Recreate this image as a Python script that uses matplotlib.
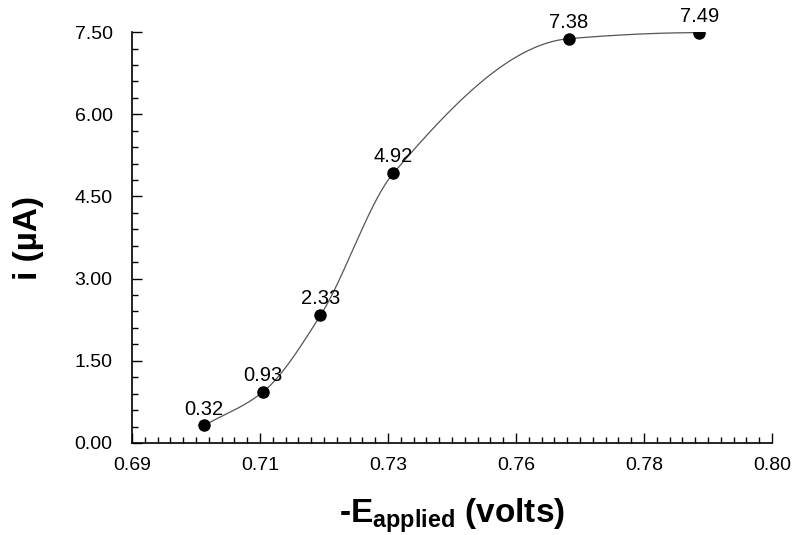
import matplotlib
matplotlib.use("Agg")
import matplotlib.pyplot as plt
import numpy as np
from matplotlib.ticker import AutoMinorLocator, FormatStrFormatter

plt.rcParams['font.family'] = ['Liberation Sans', 'DejaVu Sans']
plt.rcParams['mathtext.fontset'] = 'custom'
plt.rcParams['mathtext.rm'] = 'Liberation Sans:bold'
plt.rcParams['mathtext.default'] = 'rm'

# applied potential (V) and current (uA)
e_applied = np.array([0.7024, 0.7125, 0.7224, 0.7349, 0.7651, 0.7875])
current = np.array([0.32, 0.93, 2.33, 4.92, 7.38, 7.49])
point_labels = ["0.32", "0.93", "2.33", "4.92", "7.38", "7.49"]


def pchip(x, y, xs):
    # monotone cubic (Fritsch-Carlson) for the smooth line through the points
    h = np.diff(x)
    d = np.diff(y) / h
    m = np.zeros_like(y)
    for k in range(1, len(x) - 1):
        if d[k - 1] * d[k] > 0:
            w1 = 2 * h[k] + h[k - 1]
            w2 = h[k] + 2 * h[k - 1]
            m[k] = (w1 + w2) / (w1 / d[k - 1] + w2 / d[k])
    m[0] = d[0]
    m[-1] = 0.0
    idx = np.clip(np.searchsorted(x, xs) - 1, 0, len(x) - 2)
    t = (xs - x[idx]) / h[idx]
    h00 = 2 * t**3 - 3 * t**2 + 1
    h10 = t**3 - 2 * t**2 + t
    h01 = -2 * t**3 + 3 * t**2
    h11 = t**3 - t**2
    return h00 * y[idx] + h10 * h[idx] * m[idx] + h01 * y[idx + 1] + h11 * h[idx] * m[idx + 1]


fig = plt.figure(figsize=(7.94, 5.35), dpi=100)
ax = fig.add_axes([0.1662, 0.172, 0.8061, 0.768])

xs = np.linspace(e_applied[0], e_applied[-1], 400)
ax.plot(xs, pchip(e_applied, current, xs), color="#555555", lw=0.9)
ax.plot(e_applied, current, "o", color="black", ms=8)

for xv, yv, lab in zip(e_applied, current, point_labels):
    ax.annotate(lab, (xv, yv), xytext=(0, 5), textcoords="offset points",
                ha="center", va="bottom", fontsize=14.5)

ax.set_xlim(0.69, 0.80)
ax.set_ylim(0, 7.5)
ax.set_xticks(np.linspace(0.69, 0.80, 6))
ax.set_yticks(np.linspace(0, 7.5, 6))
ax.xaxis.set_major_formatter(FormatStrFormatter("%.2f"))
ax.yaxis.set_major_formatter(FormatStrFormatter("%.2f"))
ax.xaxis.set_minor_locator(AutoMinorLocator(10))
ax.yaxis.set_minor_locator(AutoMinorLocator(5))
ax.tick_params(which="both", direction="in", width=1, labelsize=14)
ax.tick_params(axis="y", which="major", length=7, pad=14)
ax.tick_params(axis="x", which="major", length=7, pad=10)
ax.tick_params(which="minor", length=4.5)

ax.spines["top"].set_visible(False)
ax.spines["right"].set_visible(False)
ax.spines["left"].set_linewidth(1.2)
ax.spines["bottom"].set_linewidth(1.2)

ax.set_xlabel(r"-E$_{applied}$ (volts)", fontsize=24, fontweight="bold", labelpad=16)
ax.set_ylabel("i (µA)", fontsize=24, fontweight="bold", labelpad=22)

plt.savefig("out.png", dpi=100)
